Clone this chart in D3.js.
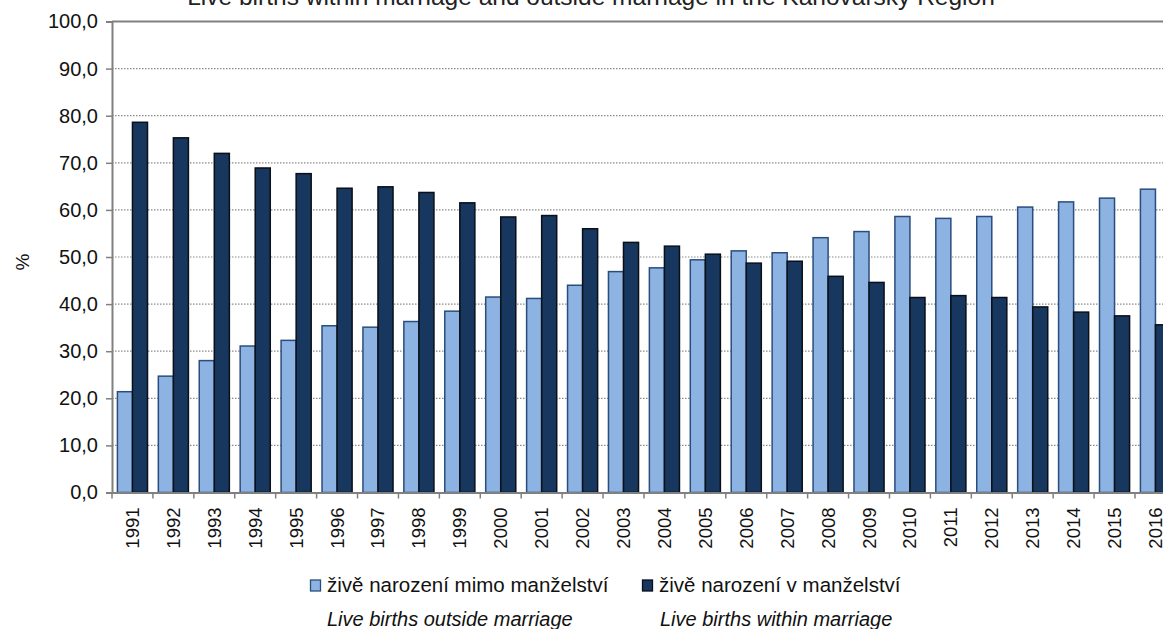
<!DOCTYPE html>
<html>
<head>
<meta charset="utf-8">
<script src="https://cdn.jsdelivr.net/npm/d3@7"></script>
<style>
  html, body { margin: 0; padding: 0; background: #fff; overflow: hidden; }
  svg { display: block; font-family: "Liberation Sans", Arial, sans-serif; }
</style>
</head>
<body>
<svg id="chart"></svg>
<script>
// Data
const years = ["1991","1992","1993","1994","1995","1996","1997","1998","1999","2000",
  "2001","2002","2003","2004","2005","2006","2007","2008","2009","2010",
  "2011","2012","2013","2014","2015","2016"];
const outsideMarriage = [21.4,24.7,28.0,31.1,32.3,35.4,35.1,36.3,38.5,41.5,
  41.2,44.0,46.9,47.7,49.4,51.3,50.9,54.1,55.4,58.6,
  58.2,58.6,60.6,61.7,62.5,64.4];
const withinMarriage = [78.6,75.3,72.0,68.9,67.7,64.6,64.9,63.7,61.5,58.5,
  58.8,56.0,53.1,52.3,50.6,48.7,49.1,45.9,44.6,41.4,
  41.8,41.4,39.4,38.3,37.5,35.6];
const yTicks = [0,10,20,30,40,50,60,70,80,90,100];
const seriesKeys = ["out", "in"];
const seriesNames = ["živě narození mimo manželství", "živě narození v manželství"];
const seriesNamesEn = ["Live births outside marriage", "Live births within marriage"];
const title = "Live births within marriage and outside marriage in the Karlovarský Region";

const width = 1163, height = 629;
const margin = {top: 21.5, left: 112, bottom: 136.5};
const bandW = 40.92;

const colors = {out: "#8db3e2", in: "#17375e"};
const strokes = {out: "#2a4d7c", in: "#0a0f18"};

const svg = d3.select("#chart")
  .attr("width", width)
  .attr("height", height)
  .attr("viewBox", [0, 0, width, height]);

const x = d3.scaleBand()
  .domain(years)
  .range([margin.left, margin.left + bandW * years.length])
  .padding(0);

const x1 = d3.scaleBand()
  .domain(seriesKeys)
  .range([0, x.bandwidth()])
  .paddingInner(0)
  .paddingOuter(0.36);

const y = d3.scaleLinear()
  .domain([0, 100])
  .range([height - margin.bottom, margin.top]);

// title (cut at the top of the picture)
svg.append("text")
  .attr("x", 591)
  .attr("y", 5)
  .attr("text-anchor", "middle")
  .style("font-size", "24.5px")
  .attr("fill", "#222")
  .text(title);

// gridlines
svg.append("g")
  .selectAll("line")
  .data(yTicks.filter(d => d > 0 && d < 100))
  .join("line")
  .attr("x1", margin.left)
  .attr("x2", width)
  .attr("y1", d => y(d))
  .attr("y2", d => y(d))
  .attr("stroke", "#8a8a8a")
  .attr("stroke-width", 1.2)
  .attr("stroke-dasharray", "1.5,1.5");

// top border of plot area
svg.append("line")
  .attr("x1", margin.left).attr("x2", width)
  .attr("y1", y(100)).attr("y2", y(100))
  .attr("stroke", "#808080")
  .attr("stroke-width", 2);

// bars
const rows = years.map((yr, i) => ({year: yr, out: outsideMarriage[i], in: withinMarriage[i]}));

svg.append("g")
  .selectAll("g")
  .data(rows)
  .join("g")
  .attr("transform", d => `translate(${x(d.year)},0)`)
  .selectAll("rect")
  .data(d => seriesKeys.map(k => ({key: k, value: d[k]})))
  .join("rect")
  .attr("x", d => x1(d.key))
  .attr("y", d => y(d.value))
  .attr("width", x1.bandwidth())
  .attr("height", d => y(0) - y(d.value))
  .attr("fill", d => colors[d.key])
  .attr("stroke", d => strokes[d.key])
  .attr("stroke-width", 1.5);

// y axis
const yAxis = svg.append("g")
  .attr("transform", `translate(${margin.left},0)`)
  .call(d3.axisLeft(y).tickValues(yTicks).tickSize(6).tickPadding(8)
    .tickFormat(d => d3.format(".1f")(d).replace(".", ",")));
yAxis.select(".domain").attr("stroke", "#808080").attr("stroke-width", 2);
yAxis.selectAll(".tick line").attr("stroke", "#808080").attr("stroke-width", 1.5);
yAxis.selectAll(".tick text")
  .style("font-size", "20px")
  .attr("fill", "#111");

// x axis
const xAxis = svg.append("g")
  .attr("transform", `translate(0,${y(0)})`)
  .call(d3.axisBottom(x).tickSize(0).tickSizeOuter(0));
xAxis.select(".domain").attr("stroke", "#808080").attr("stroke-width", 2);
xAxis.selectAll(".tick text")
  .style("font-size", "18.5px")
  .attr("fill", "#111")
  .attr("transform", "rotate(-90)")
  .attr("text-anchor", "end")
  .attr("x", -15)
  .attr("y", 0)
  .attr("dy", "0.35em");

// x tick marks at category boundaries
svg.append("g")
  .selectAll("line")
  .data(years)
  .join("line")
  .attr("x1", d => x(d))
  .attr("x2", d => x(d))
  .attr("y1", y(0))
  .attr("y2", y(0) + 6)
  .attr("stroke", "#808080")
  .attr("stroke-width", 1.5);

// y label
svg.append("text")
  .attr("transform", `translate(29,${(y(0) + y(100)) / 2 + 5}) rotate(-90)`)
  .attr("text-anchor", "middle")
  .style("font-size", "19px")
  .attr("fill", "#111")
  .text("%");

// legend
const legendX = [310, 642];
const legend = svg.append("g")
  .selectAll("g")
  .data(seriesKeys)
  .join("g")
  .attr("transform", (d, i) => `translate(${legendX[i]},0)`);

legend.append("rect")
  .attr("x", 0.5)
  .attr("y", 580)
  .attr("width", 10)
  .attr("height", 11)
  .attr("fill", d => colors[d])
  .attr("stroke", d => strokes[d])
  .attr("stroke-width", 1.3);

legend.append("text")
  .attr("x", 17)
  .attr("y", 592)
  .style("font-size", "20.5px")
  .attr("fill", "#111")
  .text((d, i) => seriesNames[i]);

legend.append("text")
  .attr("x", (d, i) => i === 0 ? 17 : 18)
  .attr("y", 626)
  .style("font-size", "20px")
  .style("font-style", "italic")
  .attr("fill", "#111")
  .text((d, i) => seriesNamesEn[i]);
</script>
</body>
</html>
